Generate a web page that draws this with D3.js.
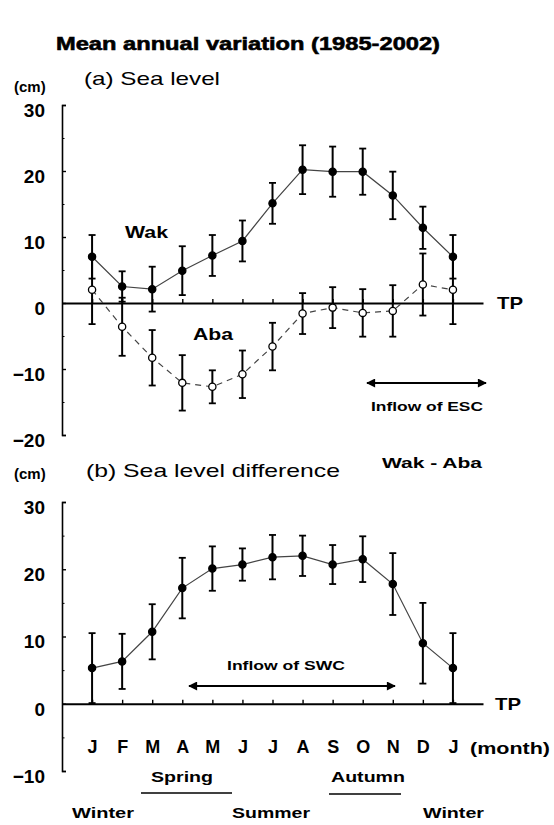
<!DOCTYPE html>
<html>
<head>
<meta charset="utf-8">
<script src="https://cdn.jsdelivr.net/npm/d3@7/dist/d3.min.js"></script>
<style>
  html, body { margin: 0; padding: 0; background: #fff; }
  svg { display: block; font-family: "Liberation Sans", Arial, sans-serif; }
  .bold { font-weight: bold; }
</style>
</head>
<body>
<svg id="chart" width="554" height="825"></svg>
<script>
// ---- data ----
const months = ["J","F","M","A","M","J","J","A","S","O","N","D","J"];
const wak    = [7.0, 2.5, 2.1, 4.9, 7.2, 9.4, 15.1, 20.2, 19.9, 19.9, 16.3, 11.4, 7.0];
const wakErr = [3.3, 2.3, 3.4, 3.7, 3.1, 3.1, 3.1, 3.7, 3.8, 3.5, 3.6, 3.2, 3.3];
const aba    = [2.0, -3.6, -8.3, -12.1, -12.7, -10.8, -6.6, -1.6, -0.7, -1.5, -1.2, 2.8, 2.0];
const abaErr = [5.2, 4.4, 4.2, 4.2, 2.5, 3.6, 3.6, 3.1, 3.1, 3.6, 3.9, 4.7, 5.2];
const diff    = [5.3, 6.3, 10.7, 17.2, 20.1, 20.7, 21.8, 22.0, 20.7, 21.5, 17.8, 9.0, 5.3];
const diffErr = [5.2, 4.1, 4.1, 4.5, 3.3, 2.4, 3.3, 3.0, 2.9, 3.4, 4.6, 6.0, 5.2];
const topTicks = [30, 20, 10, 0, -10, -20];
const topMinor = [25, 15, 5, -5, -15];
const botTicks = [30, 20, 10, 0, -10];
const botMinor = [25, 15, 5, -5];

const svg = d3.select("#chart");
const idx = d3.range(months.length);

const x = d3.scalePoint().domain(idx).range([62, 483]).padding(1);
const yTop = d3.scaleLinear().domain([-20, 30]).range([435, 105]);
const yBot = d3.scaleLinear().domain([-10, 30]).range([771, 502]);

// arrow markers
const defs = svg.append("defs");
defs.append("marker").attr("id","arrEnd").attr("viewBox","0 0 10 10")
  .attr("refX",9).attr("refY",5).attr("markerWidth",5).attr("markerHeight",4.5)
  .attr("markerUnits","strokeWidth").attr("orient","auto")
  .append("path").attr("d","M0,0L10,5L0,10z").attr("fill","#000");
defs.append("marker").attr("id","arrStart").attr("viewBox","0 0 10 10")
  .attr("refX",1).attr("refY",5).attr("markerWidth",5).attr("markerHeight",4.5)
  .attr("markerUnits","strokeWidth").attr("orient","auto")
  .append("path").attr("d","M10,0L0,5L10,10z").attr("fill","#000");

// ---- title ----
svg.append("text").attr("x", 248).attr("y", 50).attr("text-anchor","middle")
  .attr("class","bold").attr("font-size", 19)
  .attr("stroke","#000").attr("stroke-width",0.6)
  .attr("textLength", 384).attr("lengthAdjust","spacingAndGlyphs")
  .text("Mean annual variation (1985-2002)");

function yAxis(g, y, ticks, minor) {
  const ax = d3.axisLeft(y).tickValues(ticks).tickSize(-4).tickSizeOuter(-4)
    .tickPadding(17).tickFormat(d3.format("d"));
  g.call(ax);
  g.select(".domain").attr("stroke-width", 1.6);
  g.selectAll(".tick line").attr("stroke-width", 1.4);
  g.selectAll(".tick text").attr("font-size", 19).attr("font-weight","bold")
    .attr("font-family","Liberation Sans, Arial, sans-serif").attr("fill","#000")
    .attr("dy", "0.75em").attr("y", -3);
  const mg = g.append("g");
  mg.call(d3.axisLeft(y).tickValues(minor).tickSize(-2.5).tickFormat(""));
  mg.select(".domain").remove();
}

function xAxis(g, withLabels) {
  g.call(d3.axisTop(x).tickSize(4).tickSizeOuter(0).tickFormat(""));
  g.select(".domain").attr("stroke-width", 2.2);
  g.selectAll(".tick line").attr("stroke-width", 1.4);
  if (withLabels) {
    const lg = g.append("g");
    lg.call(d3.axisBottom(x).tickSize(0).tickPadding(36).tickFormat(i => months[i]));
    lg.select(".domain").remove();
    lg.selectAll("text").attr("font-size", 18).attr("font-weight","bold")
      .attr("font-family","Liberation Sans, Arial, sans-serif").attr("fill","#000");
  }
}

function series(g, y, vals, errs, dashed) {
  const line = d3.line().x((d, i) => x(i)).y(d => y(d));
  g.append("path").datum(vals).attr("d", line).attr("fill","none")
    .attr("stroke", "#444").attr("stroke-width", 1.2)
    .attr("stroke-dasharray", dashed ? "6,5" : null);
  const eb = g.append("g");
  eb.selectAll("line.v").data(vals).join("line").attr("class","v")
    .attr("x1",(d,i)=>x(i)).attr("x2",(d,i)=>x(i))
    .attr("y1",(d,i)=>y(d-errs[i])).attr("y2",(d,i)=>y(d+errs[i]))
    .attr("stroke","#000").attr("stroke-width",2);
  [-1, 1].forEach(s => {
    eb.selectAll("line.c" + (s>0?"p":"m")).data(vals).join("line").attr("class","c"+(s>0?"p":"m"))
      .attr("x1",(d,i)=>x(i)-3.5).attr("x2",(d,i)=>x(i)+3.5)
      .attr("y1",(d,i)=>y(d+s*errs[i])).attr("y2",(d,i)=>y(d+s*errs[i]))
      .attr("stroke","#000").attr("stroke-width",1.8);
  });
  g.selectAll("circle").data(vals).join("circle")
    .attr("cx",(d,i)=>x(i)).attr("cy",d=>y(d)).attr("r",3.6)
    .attr("fill", dashed ? "#fff" : "#000").attr("stroke","#000").attr("stroke-width",1.3);
}

// ---- panel (a) ----
const pa = svg.append("g");
pa.append("text").attr("x", 14).attr("y", 92).attr("font-size", 15).attr("class","bold").text("(cm)");
pa.append("text").attr("x", 84).attr("y", 85).attr("font-size", 19)
  .attr("textLength",136).attr("lengthAdjust","spacingAndGlyphs").text("(a) Sea level");
yAxis(pa.append("g").attr("transform","translate(62,0)"), yTop, topTicks, topMinor);
xAxis(pa.append("g").attr("transform",`translate(0,${yTop(0)})`), false);
series(pa.append("g"), yTop, aba, abaErr, true);
series(pa.append("g"), yTop, wak, wakErr, false);
pa.append("text").attr("x",125).attr("y",238).attr("font-size",17).attr("class","bold")
  .attr("textLength",43).attr("lengthAdjust","spacingAndGlyphs").text("Wak");
pa.append("text").attr("x",193).attr("y",340).attr("font-size",17).attr("class","bold")
  .attr("textLength",40).attr("lengthAdjust","spacingAndGlyphs").text("Aba");
pa.append("text").attr("x",497).attr("y",yTop(0)+6).attr("font-size",17).attr("class","bold")
  .attr("textLength",26).attr("lengthAdjust","spacingAndGlyphs").text("TP");
pa.append("line").attr("x1",367).attr("x2",486).attr("y1",383).attr("y2",383)
  .attr("stroke","#000").attr("stroke-width",2)
  .attr("marker-start","url(#arrStart)").attr("marker-end","url(#arrEnd)");
pa.append("text").attr("x",371).attr("y",411).attr("font-size",13).attr("class","bold")
  .attr("textLength",112).attr("lengthAdjust","spacingAndGlyphs").text("Inflow of ESC");

// ---- panel (b) ----
const pb = svg.append("g");
pb.append("text").attr("x", 14).attr("y", 479).attr("font-size", 15).attr("class","bold").text("(cm)");
pb.append("text").attr("x", 86).attr("y", 477).attr("font-size", 19)
  .attr("textLength",254).attr("lengthAdjust","spacingAndGlyphs").text("(b) Sea level difference");
pb.append("text").attr("x", 382).attr("y", 468).attr("font-size", 14).attr("class","bold")
  .attr("textLength",100).attr("lengthAdjust","spacingAndGlyphs").text("Wak - Aba");
yAxis(pb.append("g").attr("transform","translate(62,0)"), yBot, botTicks, botMinor);
xAxis(pb.append("g").attr("transform",`translate(0,${yBot(0)})`), true);
series(pb.append("g"), yBot, diff, diffErr, false);
pb.append("text").attr("x",495).attr("y",yBot(0)+6).attr("font-size",17).attr("class","bold")
  .attr("textLength",26).attr("lengthAdjust","spacingAndGlyphs").text("TP");
pb.append("text").attr("x",470).attr("y",yBot(0)+50).attr("font-size",16).attr("class","bold")
  .attr("textLength",80).attr("lengthAdjust","spacingAndGlyphs").text("(month)");
pb.append("line").attr("x1",189).attr("x2",395).attr("y1",686).attr("y2",686)
  .attr("stroke","#000").attr("stroke-width",2)
  .attr("marker-start","url(#arrStart)").attr("marker-end","url(#arrEnd)");
pb.append("text").attr("x",227).attr("y",670).attr("font-size",13).attr("class","bold")
  .attr("textLength",118).attr("lengthAdjust","spacingAndGlyphs").text("Inflow of SWC");

// seasons
const seasons = pb.append("g").attr("font-size",15).attr("class","bold");
seasons.append("text").attr("x",151).attr("y",782).attr("textLength",62).attr("lengthAdjust","spacingAndGlyphs").text("Spring");
seasons.append("text").attr("x",331).attr("y",782).attr("textLength",74).attr("lengthAdjust","spacingAndGlyphs").text("Autumn");
seasons.append("line").attr("x1",141).attr("x2",232).attr("y1",793).attr("y2",793).attr("stroke","#000").attr("stroke-width",1.6);
seasons.append("line").attr("x1",329).attr("x2",401).attr("y1",794).attr("y2",794).attr("stroke","#000").attr("stroke-width",1.6);
seasons.append("text").attr("x",72).attr("y",818).attr("textLength",62).attr("lengthAdjust","spacingAndGlyphs").text("Winter");
seasons.append("text").attr("x",232).attr("y",818).attr("textLength",78).attr("lengthAdjust","spacingAndGlyphs").text("Summer");
seasons.append("text").attr("x",423).attr("y",818).attr("textLength",61).attr("lengthAdjust","spacingAndGlyphs").text("Winter");
</script>
</body>
</html>
